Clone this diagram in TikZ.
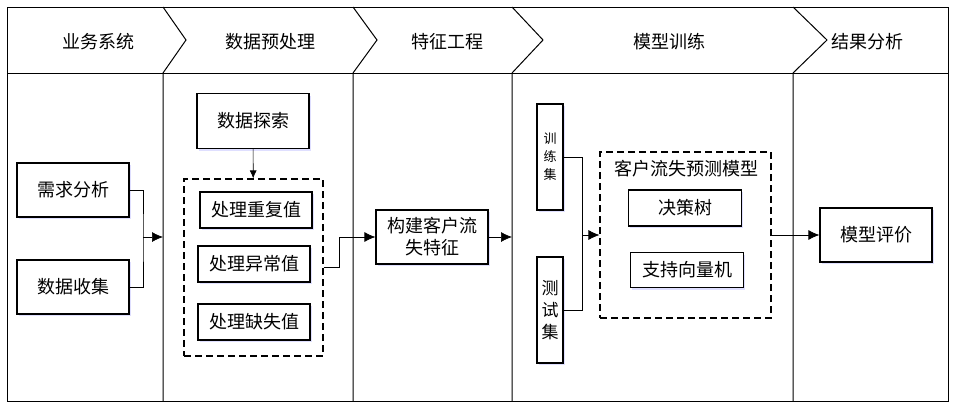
\documentclass[tikz,border=0pt]{standalone}
\usepackage{fontspec}
\setmainfont{Noto Sans CJK SC}
\usetikzlibrary{shadows,arrows.meta}

\begin{document}
\begin{tikzpicture}[x=1pt, y=-1pt,
	box/.style={draw, line width=1.2pt, fill=white, inner sep=1pt, align=center,
		font=\fontsize{18}{22}\selectfont,
		drop shadow={shadow xshift=1.5pt, shadow yshift=-2pt, fill=blue!25, opacity=0.5}},
	dbox/.style={draw, line width=1.1pt, dash pattern=on 7pt off 4pt},
	head/.style={font=\fontsize{18}{22}\selectfont},
	link/.style={line width=0.7pt},
	arr/.style={line width=0.7pt, -{Latex[length=11pt,width=10pt]}}]
	\useasboundingbox (0,0) rectangle (957,408);
	% frame and header
	\draw [line width=1pt] (7,7) rectangle (948,401);
	\draw [line width=1pt] (7,73) -- (948,73);
	\foreach \a/\b in {163/186, 353/377, 512/543, 793/827}
		\draw [line width=1pt] (\a,7) -- (\b,40) -- (\a,73) -- (\a,401);
	\node [head] (h1) at (98,42) {业务系统};
	\node [head] (h2) at (270,42) {数据预处理};
	\node [head] (h3) at (447,42) {特征工程};
	\node [head] (h4) at (669,42) {模型训练};
	\node [head] (h5) at (867,42) {结果分析};
	% business system
	\node [box, minimum width=112pt, minimum height=54pt] (req) at (73,190) {需求分析};
	\node [box, minimum width=112pt, minimum height=54pt] (coll) at (73,287) {数据收集};
	\coordinate (j1) at (143,237);
	\coordinate (in2) at (163,237);
	\draw [link] (req.east) -| (j1) |- (coll.east);
	\draw [arr] (j1) -- (in2);
	% preprocessing
	\node [box, minimum width=112pt, minimum height=55pt] (expl) at (253,121) {数据探索};
	\node [dbox, minimum width=139pt, minimum height=177pt] (prep) at (253.5,267.5) {};
	\node [box, minimum width=112pt, minimum height=36pt] (dup) at (256,210) {处理重复值};
	\node [box, minimum width=112pt, minimum height=36pt] (outl) at (254,264) {处理异常值};
	\node [box, minimum width=112pt, minimum height=36pt] (miss) at (254,322) {处理缺失值};
	\draw [arr, -{Latex[length=8pt,width=7pt]}] (expl) -- (prep);
	% feature engineering
	\node [box, minimum width=112pt, minimum height=54pt] (feat) at (432,237) {构建客户流\\失特征};
	\draw [arr] (prep.east) -- ++(16,0) |- (feat.west);
	\coordinate (in4) at (512,237);
	\draw [arr] (feat.east) -- (in4);
	% model training
	\node [box, minimum width=26pt, minimum height=106pt, font=\fontsize{13}{18}\selectfont] (train) at (550,157) {训\\练\\集};
	\node [box, minimum width=26pt, minimum height=106pt, font=\fontsize{17}{22}\selectfont] (test) at (550,310) {测\\试\\集};
	\node [dbox, minimum width=171pt, minimum height=166pt] (model) at (685.5,235) {};
	\node [head] (mtitle) at (686,169) {客户流失预测模型};
	\node [box, minimum width=113pt, minimum height=36pt] (tree) at (685,208) {决策树};
	\node [box, minimum width=113pt, minimum height=35pt] (svm) at (687,270) {支持向量机};
	\coordinate (j2) at (582,235);
	\draw [link] (train.east) -| (j2) |- (test.east);
	\draw [arr] (j2) -- (model.west);
	% result analysis
	\node [box, minimum width=112pt, minimum height=54pt] (eval) at (876,235) {模型评价};
	\draw [arr] (model.east) -- (eval.west);
\end{tikzpicture}
\end{document}
